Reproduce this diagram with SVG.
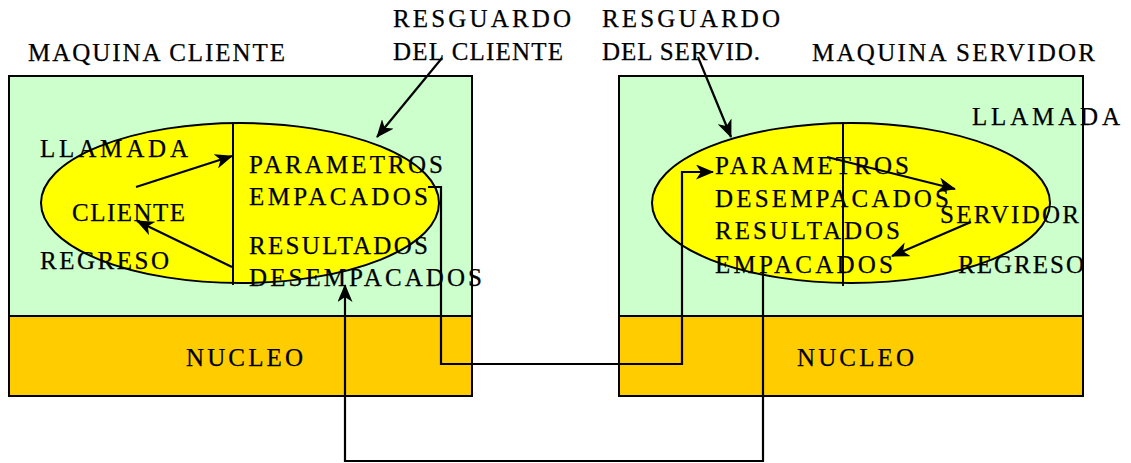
<svg xmlns="http://www.w3.org/2000/svg" width="1131" height="463" viewBox="0 0 1131 463">
<style>
.t{font-family:"Liberation Serif","Times New Roman",serif;font-size:25px;fill:#000;stroke:#000;stroke-width:0.25}
.mach{fill:#CCFFCC;stroke:#000;stroke-width:2}
.nuc{fill:#FFCC00;stroke:#000;stroke-width:2}
.stub{fill:#FFFF00;stroke:#000;stroke-width:2}
.ln{fill:none;stroke:#000;stroke-width:2}
.arr{fill:none;stroke:#000;stroke-width:2.2;marker-end:url(#ah)}
</style>
<defs>
<marker id="ah" viewBox="0 0 18 15" refX="17" refY="7.5" markerWidth="18" markerHeight="15" markerUnits="userSpaceOnUse" orient="auto">
<path d="M0,0 L18,7.5 L0,15 L5,7.5 z" fill="#000"/>
</marker>
</defs>
<rect width="1131" height="463" fill="#fff"/>
<g id="titles">
<text class="t" x="28" y="61" textLength="257" lengthAdjust="spacing">MAQUINA CLIENTE</text>
<text class="t" x="812" y="61" textLength="283" lengthAdjust="spacing">MAQUINA SERVIDOR</text>
</g>
<g id="client-machine">
<rect class="mach" x="9" y="76" width="463" height="240"/>
</g>
<g id="client-nucleo">
<rect class="nuc" x="9" y="316" width="463" height="80"/>
<text class="t" x="186" y="366" textLength="117" lengthAdjust="spacing">NUCLEO</text>
</g>
<g id="server-machine">
<rect class="mach" x="619" y="76" width="464" height="240"/>
</g>
<g id="server-nucleo">
<rect class="nuc" x="619" y="316" width="464" height="80"/>
<text class="t" x="797" y="366" textLength="117" lengthAdjust="spacing">NUCLEO</text>
</g>
<g id="client-stub">
<ellipse class="stub" cx="240" cy="203" rx="199" ry="80"/>
<line class="ln" x1="233" y1="122" x2="233" y2="285"/>
<text class="t" x="40" y="157" textLength="148" lengthAdjust="spacing">LLAMADA</text>
<text class="t" x="72" y="221" textLength="113" lengthAdjust="spacing">CLIENTE</text>
<text class="t" x="40" y="269" textLength="129" lengthAdjust="spacing">REGRESO</text>
<text class="t" x="249" y="173" textLength="194" lengthAdjust="spacing">PARAMETROS</text>
<text class="t" x="249" y="205" textLength="179" lengthAdjust="spacing">EMPACADOS</text>
<text class="t" x="249" y="254" textLength="179" lengthAdjust="spacing">RESULTADOS</text>
<text class="t" x="249" y="286" textLength="233" lengthAdjust="spacing">DESEMPACADOS</text>
</g>
<g id="server-stub">
<ellipse class="stub" cx="851" cy="203" rx="199" ry="80"/>
<line class="ln" x1="843" y1="122" x2="843" y2="286"/>
<text class="t" x="715" y="174" textLength="194" lengthAdjust="spacing">PARAMETROS</text>
<text class="t" x="715" y="207" textLength="234" lengthAdjust="spacing">DESEMPACADOS</text>
<text class="t" x="715" y="239" textLength="185" lengthAdjust="spacing">RESULTADOS</text>
<text class="t" x="715" y="273" textLength="178" lengthAdjust="spacing">EMPACADOS</text>
<text class="t" x="940" y="223" textLength="139" lengthAdjust="spacing">SERVIDOR</text>
<text class="t" x="972" y="125" textLength="148" lengthAdjust="spacing">LLAMADA</text>
<text class="t" x="958" y="273" textLength="126" lengthAdjust="spacing">REGRESO</text>
</g>
<g id="labels">
<text class="t" x="393" y="27" textLength="178" lengthAdjust="spacing">RESGUARDO</text>
<text class="t" x="393" y="60" textLength="170" lengthAdjust="spacing">DEL CLIENTE</text>
<text class="t" x="602" y="27" textLength="178" lengthAdjust="spacing">RESGUARDO</text>
<text class="t" x="602" y="60" textLength="158" lengthAdjust="spacing">DEL SERVID.</text>
</g>
<g id="connectors">
<path class="arr" d="M136,187 L232,156"/>
<path class="arr" d="M232,267 L137,221"/>
<path class="arr" d="M827,157 L955,189"/>
<path class="arr" d="M971,222 L892,256"/>
<path class="arr" d="M442,58 L377,137"/>
<path class="arr" d="M698,57 L731,137"/>
<path class="arr" d="M428,187 L441,187 L441,364 L682,364 L682,172 L713,172"/>
<path class="arr" d="M763,265 L763,461 L345,461 L345,285"/>
</g>
</svg>
